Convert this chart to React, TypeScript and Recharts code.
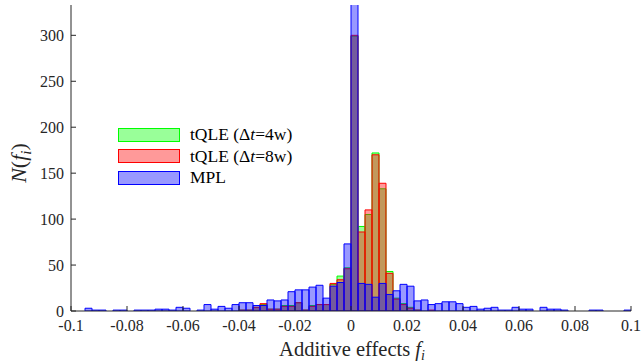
import { BarChart, Bar, XAxis, YAxis, Legend } from 'recharts';

const serif = 'Liberation Serif, DejaVu Serif, Times New Roman, serif';
const axisColor = '#262626';

// histogram bins: 80 bins of width 0.0025 on [-0.1, 0.1]
const binStart = -0.1;
const binWidth = 0.0025;

const mplCounts = [
  0, 0, 3, 1, 1, 0, 1, 1, 0, 1,
  1, 1, 2, 2, 1, 4, 3, 0, 1, 7,
  2, 5, 3, 7, 9, 9, 6, 6, 12, 11,
  12, 21, 23, 23, 26, 28, 14, 27, 31, 73,
  360, 30, 29, 15, 30, 18, 22, 29, 27, 11,
  12, 7, 8, 10, 10, 8, 4, 5, 2, 3,
  4, 1, 1, 4, 2, 2, 0, 4, 2, 2,
  1, 0, 0, 0, 1, 1, 0, 0, 0, 1,
];

const tqle8wCounts = [
  0, 0, 0, 0, 0, 0, 0, 0, 0, 0,
  0, 0, 0, 0, 0, 0, 0, 0, 0, 0,
  0, 0, 0, 0, 1, 1, 4, 8, 2, 2,
  5, 5, 9, 1, 5, 7, 7, 30, 34, 46,
  300, 86, 110, 170, 139, 41, 13, 7, 3, 1,
  0, 1, 0, 0, 0, 0, 0, 0, 0, 0,
  0, 0, 0, 0, 0, 0, 0, 0, 0, 0,
  0, 0, 0, 0, 0, 0, 0, 0, 0, 0,
];

const tqle4wCounts = [
  0, 0, 0, 0, 0, 0, 0, 0, 0, 0,
  0, 0, 0, 0, 0, 0, 0, 0, 0, 0,
  0, 0, 0, 0, 1, 1, 4, 7, 2, 2,
  6, 6, 9, 1, 6, 7, 7, 29, 38, 47,
  299, 92, 105, 172, 133, 43, 14, 8, 4, 1,
  0, 0, 0, 0, 0, 0, 0, 0, 0, 0,
  0, 0, 0, 0, 0, 0, 0, 0, 0, 0,
  0, 0, 0, 0, 0, 0, 0, 0, 0, 0,
];

const xTicks = [-0.1, -0.08, -0.06, -0.04, -0.02, 0, 0.02, 0.04, 0.06, 0.08, 0.1];
const yTicks = [0, 50, 100, 150, 200, 250, 300];

const series = [
  { key: 'tqle4w', pre: 'tQLE (Δ', it: 't', post: '=4w)', color: '#00ff00' },
  { key: 'tqle8w', pre: 'tQLE (Δ', it: 't', post: '=8w)', color: '#ff0000' },
  { key: 'mpl', pre: 'MPL', it: '', post: '', color: '#0000ff' },
];

const data = mplCounts.map((m, i) => ({
  x: binStart + binWidth * (i + 0.5),
  mpl: m,
  tqle8w: tqle8wCounts[i],
  tqle4w: tqle4wCounts[i],
}));

const fmtTick = (v: number) => (Math.abs(v) < 1e-9 ? '0' : String(+v.toFixed(2)));

function LegendBox() {
  return (
    <div style={{ fontFamily: serif, fontSize: 17.5, color: '#000', lineHeight: 1 }}>
      {series.map((s) => (
        <div key={s.key} style={{ display: 'flex', alignItems: 'center', height: 21.5 }}>
          <span
            style={{
              display: 'inline-block',
              width: 60,
              height: 12,
              background: s.color,
              border: `1.5px solid ${s.color}`,
              boxShadow: 'inset 0 0 0 20px rgba(255,255,255,0.6)',
              marginRight: 10,
            }}
          />
          <span>
            {s.pre}
            {s.it && <i>{s.it}</i>}
            {s.post}
          </span>
        </div>
      ))}
    </div>
  );
}

export default function App() {
  return (
    <div style={{ position: 'absolute', left: 0, top: 0, width: 641, height: 362, background: '#fff' }}>
      <BarChart
        width={641}
        height={362}
        data={data}
        margin={{ top: 5, right: 10, bottom: 0, left: 0 }}
        barCategoryGap={0}
        barGap="-100%"
      >
        <XAxis
          dataKey="x"
          type="number"
          domain={[-0.1, 0.1]}
          allowDataOverflow
          ticks={xTicks}
          tickFormatter={fmtTick}
          height={51}
          stroke={axisColor}
          tickSize={-5}
          tickMargin={14}
          tick={{ fill: '#262626', fontSize: 16, fontFamily: serif }}
          label={{
            content: () => (
              <text x={352} y={356} textAnchor="middle" fill="#262626" fontFamily={serif} fontSize={20.5}>
                Additive effects <tspan fontStyle="italic">f</tspan>
                <tspan fontStyle="italic" fontSize={14} dy={4}>i</tspan>
              </text>
            ),
          }}
        />
        <XAxis
          xAxisId="top"
          orientation="top"
          type="number"
          domain={[-0.1, 0.1]}
          allowDataOverflow
          ticks={xTicks}
          tickFormatter={() => ''}
          height={0}
          stroke={axisColor}
          tickSize={-5}
        />
        <YAxis
          type="number"
          domain={[0, 333]}
          allowDataOverflow
          ticks={yTicks}
          width={71}
          stroke={axisColor}
          tickSize={-5}
          tickMargin={12}
          tick={{ fill: '#262626', fontSize: 16, fontFamily: serif }}
          label={{
            content: () => (
              <text
                x={26}
                y={163}
                transform="rotate(-90 26 163)"
                textAnchor="middle"
                fill="#262626"
                fontFamily={serif}
                fontSize={22}
              >
                <tspan fontStyle="italic">N</tspan>(<tspan fontStyle="italic">f</tspan>
                <tspan fontStyle="italic" fontSize={15} dy={5}>i</tspan>
                <tspan dy={-5}>)</tspan>
              </text>
            ),
          }}
        />
        <YAxis
          yAxisId="right"
          orientation="right"
          type="number"
          domain={[0, 333]}
          ticks={yTicks}
          tickFormatter={() => ''}
          width={0}
          stroke={axisColor}
          tickSize={-5}
        />
        <Legend
          layout="vertical"
          align="center"
          verticalAlign="middle"
          content={() => <LegendBox />}
          wrapperStyle={{ left: 118, top: 124, width: 'auto' }}
        />
        {series.map((s) => (
          <Bar
            key={s.key}
            dataKey={s.key}
            fill={s.color}
            fillOpacity={0.4}
            stroke={s.color}
            strokeWidth={1}
            isAnimationActive={false}
          />
        ))}
      </BarChart>
    </div>
  );
}
